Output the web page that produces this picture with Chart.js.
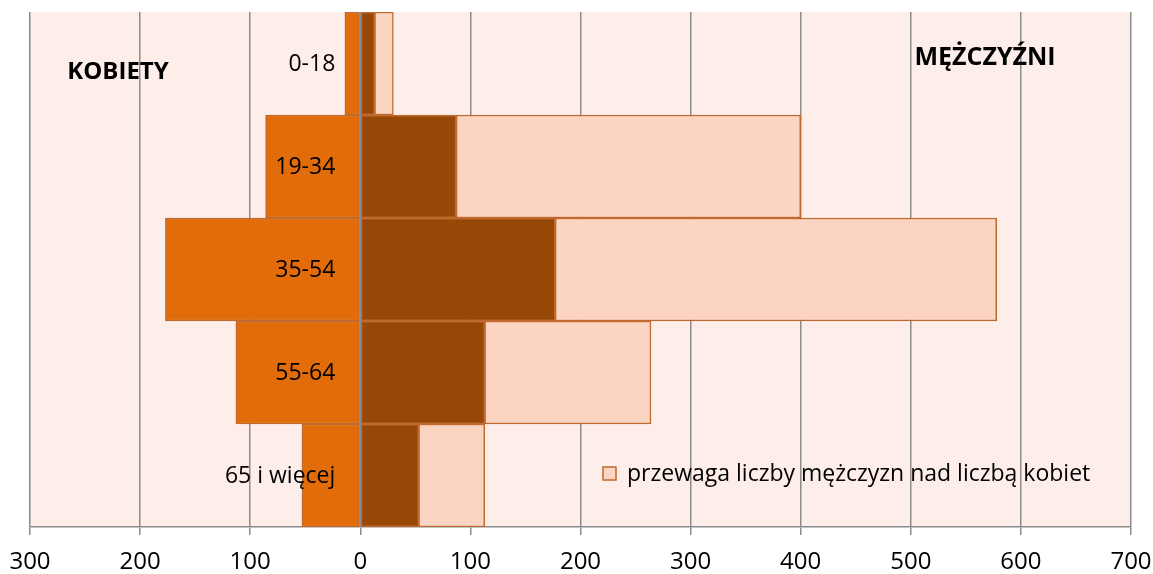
<!DOCTYPE html>
<html>
<head>
<meta charset="utf-8">
<script src="https://cdn.jsdelivr.net/npm/chart.js@4"></script>
<style>
  html, body { margin: 0; padding: 0; background: #ffffff; }
  #wrap { position: relative; width: 1153px; height: 574px; }
</style>
</head>
<body>
<div id="wrap"><canvas id="c" width="1153" height="574"></canvas></div>
<script>
// ---- data ----
const categories = ['0-18', '19-34', '35-54', '55-64', '65 i więcej'];
const kobiety = [14, 86, 177, 113, 53];
const mezczyzni = [13, 87, 177, 113, 53];
const przewaga = [17, 313, 401, 151, 60];
const xTicks = [-300, -200, -100, 0, 100, 200, 300, 400, 500, 600, 700];
const legendLabel = 'przewaga liczby mężczyzn nad liczbą kobiet';
const leftTitle = 'KOBIETY';
const rightTitle = 'MĘŻCZYŹNI';

const FONT = "'Open Sans', 'DejaVu Sans', sans-serif";
const GRID = '#8c8c8c';
const BORDER = '#c0692e';

const bgPlugin = {
  id: 'bg',
  beforeDraw(chart) {
    const { ctx, chartArea: a } = chart;
    ctx.save();
    ctx.fillStyle = '#fdeee9';
    ctx.fillRect(a.left, a.top, a.right - a.left, a.bottom - a.top);
    ctx.restore();
  }
};

const overlayPlugin = {
  id: 'overlay',
  afterDatasetsDraw(chart) {
    const { ctx, chartArea: a, scales } = chart;
    const x = scales.x, y = scales.y;
    ctx.save();
    // zero line on top of bars
    const x0 = x.getPixelForValue(0);
    ctx.strokeStyle = GRID;
    ctx.lineWidth = 1.5;
    ctx.beginPath();
    ctx.moveTo(x0, a.top);
    ctx.lineTo(x0, a.bottom);
    ctx.stroke();
    // category labels
    ctx.fillStyle = '#000';
    ctx.font = "23px " + FONT;
    ctx.textAlign = 'right';
    ctx.textBaseline = 'middle';
    categories.forEach((c, i) => {
      ctx.fillText(c, x.getPixelForValue(0) - 25, y.getPixelForValue(i) + 1);
    });
    // titles
    ctx.font = "bold 24px " + FONT;
    ctx.textAlign = 'center';
    ctx.fillText(leftTitle, 118, 72);
    ctx.font = "bold 25px " + FONT;
    ctx.fillText(rightTitle, 985, 58);
    // legend
    ctx.fillStyle = '#fbd5c2';
    ctx.strokeStyle = BORDER;
    ctx.lineWidth = 1.5;
    ctx.fillRect(603, 467, 13, 13);
    ctx.strokeRect(603, 467, 13, 13);
    ctx.fillStyle = '#000';
    ctx.font = "23px " + FONT;
    ctx.textAlign = 'left';
    ctx.fillText(legendLabel, 627, 474);
    ctx.restore();
  }
};

new Chart(document.getElementById('c'), {
  type: 'bar',
  data: {
    labels: categories,
    datasets: [
      { label: 'kobiety', data: kobiety.map(v => -v), backgroundColor: '#e36c0a', borderColor: BORDER, borderWidth: 1.5, borderSkipped: false },
      { label: 'mężczyźni', data: mezczyzni, backgroundColor: '#974806', borderColor: BORDER, borderWidth: 1.5, borderSkipped: false },
      { label: legendLabel, data: przewaga, backgroundColor: '#fbd5c2', borderColor: BORDER, borderWidth: 1.5, borderSkipped: false }
    ]
  },
  options: {
    indexAxis: 'y',
    responsive: false,
    animation: false,
    layout: { padding: { left: 30, right: 22, top: 12, bottom: 0 } },
    datasets: { bar: { barPercentage: 1, categoryPercentage: 1 } },
    plugins: { legend: { display: false }, tooltip: { enabled: false } },
    scales: {
      x: {
        type: 'linear',
        stacked: true,
        min: -300, max: 700,
        afterBuildTicks(scale) { scale.ticks = xTicks.map(v => ({ value: v })); },
        afterFit(scale) { scale.height = 47; scale.paddingLeft = 0; scale.paddingRight = 0; },
        ticks: {
          callback: v => String(Math.abs(v)),
          color: '#000',
          font: { family: FONT, size: 24 },
          padding: 13,
          maxRotation: 0
        },
        grid: { color: GRID, lineWidth: 1.5, tickLength: 8, drawOnChartArea: true },
        border: { color: GRID, width: 1.5 }
      },
      y: {
        type: 'category',
        stacked: true,
        display: false
      }
    }
  },
  plugins: [bgPlugin, overlayPlugin]
});
</script>
</body>
</html>
